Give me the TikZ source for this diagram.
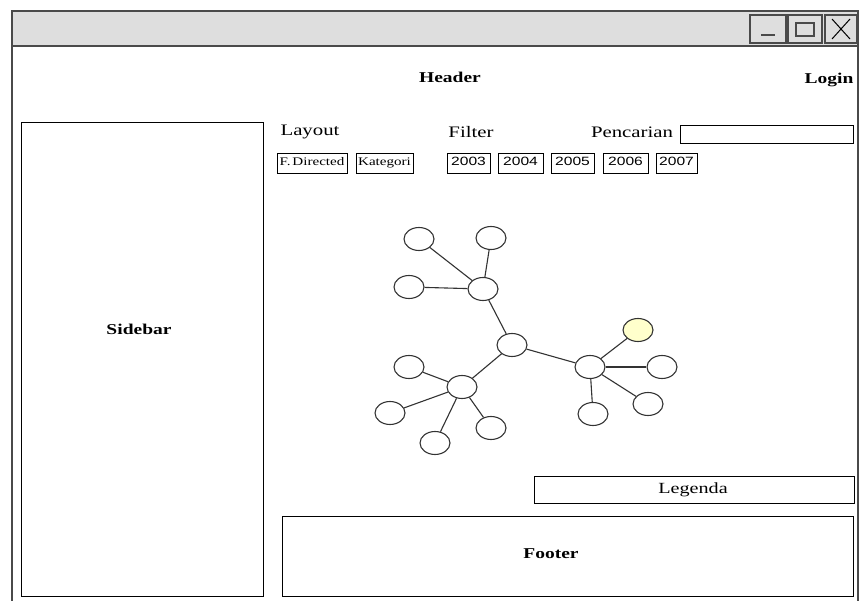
\documentclass[tikz,border=0pt]{standalone}
\usepackage{fontspec}
\setmainfont[FakeStretch=1.3]{Liberation Serif}
\newfontfamily\yearfont[FakeStretch=1.3]{Liberation Sans}
\usetikzlibrary{shapes.geometric}
\definecolor{barfill}{HTML}{DEDEDE}
\definecolor{frame}{HTML}{4A4A4A}
\definecolor{edgegray}{HTML}{333333}
\definecolor{pickfill}{HTML}{FFFFCC}
\tikzset{
  winline/.style={draw=frame, line width=1.4pt},
  panel/.style={draw=black, line width=0.9pt, rectangle, inner sep=0pt},
  title/.style={font=\fontsize{15}{16}\selectfont\bfseries, inner sep=0pt},
  label/.style={font=\fontsize{16}{18}\selectfont, inner sep=0pt},
  tab/.style={draw=black, line width=0.8pt, rectangle, inner sep=0pt,
    minimum height=20pt, text height=8.5pt, text depth=2.5pt,
    font=\fontsize{11.6}{12}\selectfont},
  yeartab/.style={tab, font=\yearfont\fontsize{12}{13}\selectfont},
  vertex/.style={ellipse, draw=edgegray, line width=1.1pt, fill=white,
    minimum width=30pt, minimum height=23pt, inner sep=0pt},
  link/.style={draw=edgegray, line width=1.1pt},
  winbtn/.style={draw=frame, line width=1.2pt, fill=barfill, rectangle,
    inner sep=0pt, minimum height=28pt},
}
\begin{document}
\begin{tikzpicture}[x=1pt, y=-1pt]
\useasboundingbox (0,0) rectangle (859,601);
\clip (0,0) rectangle (859,601);
\fill[white] (0,0) rectangle (859,601);

% application window and title bar
\fill[barfill] (12,11) rectangle (859,46);
\draw[winline] (12,620) -- (12,11) -- (859,11);
\draw[winline] (12,46) -- (859,46);
\draw[winline] (858,11) -- (858,620);

% window buttons
\node[winbtn, minimum width=36pt] (minbtn) at (768,29) {};
\node[winbtn, minimum width=34pt] (maxbtn) at (805,29) {};
\node[winbtn, minimum width=32pt] (closebtn) at (841,29) {};
\draw[frame, line width=1.2pt] ([xshift=-7pt,yshift=-6pt]minbtn.center) -- ([xshift=7pt,yshift=-6pt]minbtn.center);
\draw[frame, line width=1.2pt] ([xshift=-9pt,yshift=-7pt]maxbtn.center) rectangle ([xshift=9pt,yshift=6pt]maxbtn.center);
\draw[black, line width=1pt] ([xshift=-9pt,yshift=-10pt]closebtn.center) -- ([xshift=9pt,yshift=10pt]closebtn.center)
  ([xshift=-9pt,yshift=10pt]closebtn.center) -- ([xshift=9pt,yshift=-10pt]closebtn.center);

% header row
\node[title] (header) at (450,77) {Header};
\node[title] (login) at (829,80) {Login};

% sidebar
\node[panel, minimum width=242pt, minimum height=474pt] (sidebar) at (142,359) {};
\node[title] (sidebartext) at (139,329) {Sidebar};

% control labels
\node[label] (layout) at (310,132) {Layout};
\node[label] (filter) at (471,132) {Filter};
\node[label] (search) at (632,132) {Pencarian};
\node[panel, minimum width=173pt, minimum height=18pt] (searchbox) at (766.5,134) {};

% layout and year tabs
\node[tab, minimum width=70pt] (fdirected) at (312,163) {F.\,Directed};
\node[tab, minimum width=57pt] (kategori) at (384.5,163) {Kategori};
\node[yeartab, minimum width=43pt] (y2003) at (468.5,163) {2003};
\node[yeartab, minimum width=45pt] (y2004) at (520.5,163) {2004};
\node[yeartab, minimum width=43pt] (y2005) at (572.5,163) {2005};
\node[yeartab, minimum width=45pt] (y2006) at (625.5,163) {2006};
\node[yeartab, minimum width=41pt] (y2007) at (676.5,163) {2007};

% network graph
\node[vertex] (va) at (419,239) {};
\node[vertex] (vb) at (491,238) {};
\node[vertex] (vc) at (409,287) {};
\node[vertex] (vd) at (483,289) {};
\node[vertex] (ve) at (512,345) {};
\node[vertex] (vf) at (462,387) {};
\node[vertex] (vg) at (409,367) {};
\node[vertex] (vh) at (390,413) {};
\node[vertex] (vi) at (435,443) {};
\node[vertex] (vj) at (491,428) {};
\node[vertex] (vk) at (590,367) {};
\node[vertex, fill=pickfill] (vl) at (638,330) {};
\node[vertex] (vm) at (662,367) {};
\node[vertex] (vn) at (648,404) {};
\node[vertex] (vo) at (593,414) {};
\foreach \s/\t in {vd/va, vd/vb, vd/vc, vd/ve, ve/vf, ve/vk,
                   vf/vg, vf/vh, vf/vi, vf/vj,
                   vk/vl, vk/vm, vk/vn, vk/vo}
  \draw[link] (\s) -- (\t);

% legend and footer
\node[panel, minimum width=320pt, minimum height=27pt] (legend) at (694,489.5) {};
\node[label, font=\fontsize{15.5}{17}\selectfont] (legendtext) at (693,490) {Legenda};
\node[panel, minimum width=571pt, minimum height=80pt] (footer) at (567.5,556) {};
\node[title] (footertext) at (551,554) {Footer};
\end{tikzpicture}
\end{document}
